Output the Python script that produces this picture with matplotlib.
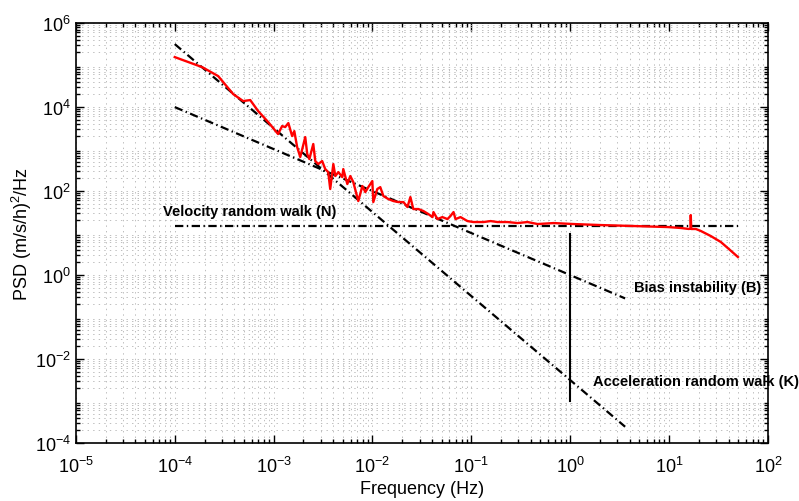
import numpy as np
import matplotlib
matplotlib.use('Agg')
import matplotlib.pyplot as plt

plt.rcParams['font.family'] = ['Liberation Sans', 'DejaVu Sans']
plt.rcParams['mathtext.fontset'] = 'custom'
plt.rcParams['mathtext.rm'] = 'Liberation Sans'
plt.rcParams['mathtext.it'] = 'Liberation Sans:italic'
plt.rcParams['lines.scale_dashes'] = False

freq = [1.0e-4, 1.89e-4, 2.75e-4, 3.90e-4, 4.92e-4, 5.80e-4, 6.98e-4, 8.81e-4, 1.11e-3, 1.22e-3,
        1.31e-3, 1.41e-3, 1.54e-3, 1.62e-3, 1.73e-3, 1.86e-3, 2.09e-3, 2.19e-3, 2.30e-3, 2.52e-3,
        2.64e-3, 2.83e-3, 3.10e-3, 3.33e-3, 3.57e-3, 3.74e-3, 4.02e-3, 4.21e-3, 4.52e-3, 4.95e-3,
        5.07e-3, 5.57e-3, 5.97e-3, 6.40e-3, 7.19e-3, 7.91e-3, 8.47e-3, 9.08e-3, 9.97e-3, 1.02e-2,
        1.12e-2, 1.20e-2, 1.29e-2, 1.45e-2, 1.63e-2, 1.83e-2, 2.06e-2, 2.26e-2, 2.42e-2, 2.59e-2,
        2.92e-2, 3.28e-2, 3.68e-2, 4.05e-2, 4.14e-2, 4.55e-2, 5.10e-2, 5.74e-2, 6.15e-2, 6.61e-2,
        6.92e-2, 7.78e-2, 9.14e-2, 0.105, 0.133, 0.157, 0.184, 0.233, 0.294, 0.371,
        0.469, 0.681, 1.08, 2.04, 4.40, 9.72, 13.2, 15.9, 16.5, 16.6, 16.8,
        18.7, 21.0, 26.5, 33.5, 40.4, 49.8]
psd = [1.55e5, 8.96e4, 5.47e4, 2.04e4, 1.39e4, 1.47e4, 8.03e3, 4.40e3, 2.28e3, 3.53e3,
       3.34e3, 4.16e3, 2.04e3, 2.68e3, 1.12e3, 646, 1.93e3, 760, 578, 1.32e3,
       518, 440, 518, 334, 283, 112, 440, 228, 283, 215,
       334, 147, 228, 164, 57.8, 132, 94.6, 124, 173, 54.7,
       112, 124, 76, 64.5, 57.8, 54.7, 54.7, 41.6, 72, 37.3,
       37.3, 33.4, 28.3, 24.0, 31.6, 21.5, 24.0, 21.5, 25.4, 31.6,
       21.5, 24.0, 19.3, 18.3, 18.3, 19.3, 18.3, 18.3, 17.3, 18.3,
       16.4, 17.3, 16.4, 15.5, 14.7, 13.9, 13.2, 12.5, 12.8, 26.8, 12.5,
       12.5, 11.2, 8.48, 6.11, 4.16, 2.69]

# noise model lines
f_fit = [1e-4, 3.6]
q_vrw = 14.7      # velocity random walk level
b_coef = 1.0      # bias instability: B/f
k_coef = 10**-2.5 # acceleration random walk: K/f^2
f_vrw = [1e-4, 50]
f_mark = 1.0
mark_lo, mark_hi = 1e-3, 9.5

fig = plt.figure(figsize=(7.99, 5.02), dpi=100)
ax = fig.add_axes([0.095, 0.1155, 0.866, 0.8365])

dd = [6, 2.5, 1, 2.5]
ax.plot(f_vrw, [q_vrw, q_vrw], color='k', lw=1.6, dashes=dd)
ax.plot(f_fit, [b_coef / f for f in f_fit], color='k', lw=1.6, dashes=dd)
ax.plot(f_fit, [k_coef / f**2 for f in f_fit], color='k', lw=1.6, dashes=dd)
ax.plot([f_mark, f_mark], [mark_lo, mark_hi], color='k', lw=1.5)
ax.plot(freq, psd, color='red', lw=1.7)

ax.set_xscale('log')
ax.set_yscale('log')
ax.set_xlim(1e-5, 1e2)
ax.set_ylim(1e-4, 1e6)
ax.set_xticks([10.0**k for k in range(-5, 3)])
ax.set_yticks([10.0**k for k in range(-4, 7, 2)])
ax.yaxis.set_minor_locator(matplotlib.ticker.LogLocator(base=10, subs=np.arange(2, 10), numticks=30))
ax.yaxis.set_minor_formatter(matplotlib.ticker.NullFormatter())
ax.grid(True, which='both', color='0.7', linestyle=(0, (1, 3)), lw=0.6)
ax.tick_params(which='both', direction='in', top=True, right=True, labelsize=13, width=1)
ax.tick_params(which='major', length=6)
ax.tick_params(which='minor', length=3)
ax.tick_params(axis='x', pad=9)
for s in ax.spines.values():
    s.set_linewidth(1.2)

ax.set_xlabel('Frequency (Hz)', fontsize=13, labelpad=3)
ax.set_ylabel('PSD (m/s/h)$^2$/Hz', fontsize=13, labelpad=1)

tk = dict(fontsize=10.5, fontweight='bold', va='center', ha='left')
ax.text(7.6e-5, 33, 'Velocity random walk (N)', **tk)
ax.text(4.4, 0.52, 'Bias instability (B)', **tk)
ax.text(1.69, 3.0e-3, 'Acceleration random walk (K)', **tk)

fig.savefig('out.png', dpi=100)
